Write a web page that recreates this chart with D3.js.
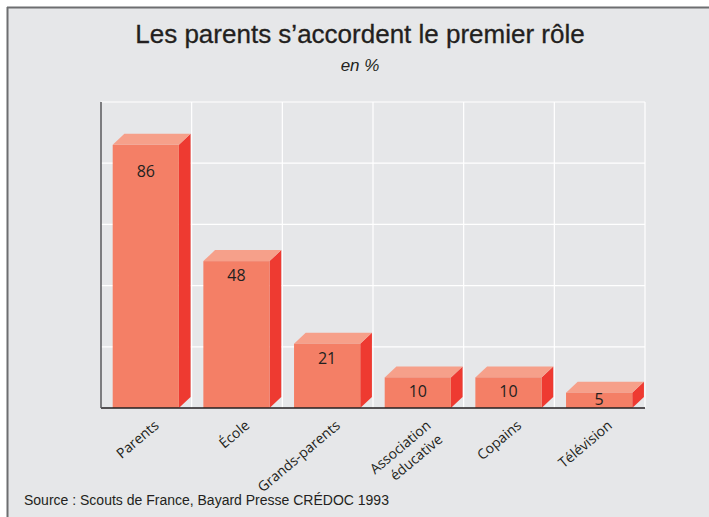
<!DOCTYPE html>
<html>
<head>
<meta charset="utf-8">
<script src="https://d3js.org/d3.v7.min.js"></script>
<style>
  body { margin: 0; background: #fff; }
  svg { display: block; }
</style>
</head>
<body>
<div id="chart"></div>
<script>
// categories & values (en %)
const categories = ["Parents", "École", "Grands-parents", "Association\néducative", "Copains", "Télévision"];
const values = [86, 48, 21, 10, 10, 5];
const yTicks = [0, 20, 40, 60, 80, 100];

const width = 709, height = 517;
const svg = d3.select("#chart").append("svg")
    .attr("width", width)
    .attr("height", height);

// background panel with top/left border
svg.append("rect")
    .attr("x", 7).attr("y", 7)
    .attr("width", width - 7).attr("height", height - 7)
    .attr("fill", "#e6e7e9");
svg.append("line")
    .attr("x1", 7).attr("x2", width).attr("y1", 7.5).attr("y2", 7.5)
    .attr("stroke", "#6d6e70").attr("stroke-width", 2);
svg.append("line")
    .attr("x1", 7.5).attr("x2", 7.5).attr("y1", 7).attr("y2", height)
    .attr("stroke", "#6d6e70").attr("stroke-width", 2);

// title
svg.append("text")
    .attr("x", 360).attr("y", 43)
    .attr("text-anchor", "middle")
    .style("font-family", "'Liberation Sans', Arial, sans-serif")
    .style("font-size", "26px")
    .attr("fill", "#231f20")
    .attr("stroke", "#231f20").attr("stroke-width", 0.3)
    .text("Les parents s\u2019accordent le premier rôle");
svg.append("text")
    .attr("x", 360).attr("y", 71)
    .attr("text-anchor", "middle")
    .style("font-family", "'Liberation Sans', Arial, sans-serif")
    .style("font-size", "17px")
    .style("font-style", "italic")
    .attr("fill", "#231f20")
    .text("en %");

// scales
const x = d3.scaleBand().domain(categories).range([101, 645]).padding(0);
const y = d3.scaleLinear().domain([0, 100]).range([408, 102]);

// grid
const grid = svg.append("g");
grid.selectAll("line.h")
    .data(yTicks.filter(d => d > 0))
    .join("line")
    .attr("x1", 101).attr("x2", 645)
    .attr("y1", d => y(d)).attr("y2", d => y(d))
    .attr("stroke", "#fff").attr("stroke-width", 1.2);
grid.selectAll("line.v")
    .data(categories)
    .join("line")
    .attr("x1", d => x(d) + x.bandwidth()).attr("x2", d => x(d) + x.bandwidth())
    .attr("y1", y(100)).attr("y2", y(0))
    .attr("stroke", "#fff").attr("stroke-width", 1.2);

// bars (3D look)
const depthX = 11.7, depthY = 11;
const offset = 11.7;
const barW = x.bandwidth() * 0.73;
const data = categories.map((c, i) => ({ cat: c, val: values[i] }));

const bars = svg.append("g").selectAll("g")
    .data(data)
    .join("g");

// side face
bars.append("path")
    .attr("fill", "#ee3a31")
    .attr("d", d => {
        const x1 = x(d.cat) + offset + barW, t = y(d.val), b = y(0);
        return `M${x1},${t}L${x1 + depthX},${t - depthY}L${x1 + depthX},${b - depthY}L${x1},${b}Z`;
    });
// top face
bars.append("path")
    .attr("fill", "#f6a08a")
    .attr("d", d => {
        const x0 = x(d.cat) + offset, x1 = x0 + barW, t = y(d.val);
        return `M${x0},${t}L${x0 + depthX},${t - depthY}L${x1 + depthX},${t - depthY}L${x1},${t}Z`;
    });
// front face
bars.append("rect")
    .attr("fill", "#f47f66")
    .attr("x", d => x(d.cat) + offset)
    .attr("y", d => y(d.val))
    .attr("width", barW)
    .attr("height", d => y(0) - y(d.val));

// value labels
bars.append("text")
    .attr("x", d => x(d.cat) + offset + barW / 2)
    .attr("y", d => y(d.val) + (d.val > 60 ? 32 : d.val < 8 ? 12 : 20))
    .attr("text-anchor", "middle")
    .style("font-family", "'Open Sans', sans-serif")
    .style("font-size", "16px")
    .attr("fill", "#231f20")
    .text(d => d.val);

// axes lines
svg.append("line")
    .attr("x1", 101).attr("x2", 645).attr("y1", y(0)).attr("y2", y(0))
    .attr("stroke", "#231f20").attr("stroke-width", 1.5);
svg.append("line")
    .attr("x1", 101).attr("x2", 101).attr("y1", y(100)).attr("y2", y(0))
    .attr("stroke", "#58595b").attr("stroke-width", 1.5);

// category labels, rotated
const labels = svg.append("g").selectAll("text")
    .data(categories)
    .join("text")
    .attr("transform", d => `translate(${x(d) + offset + barW / 2 + 14},${y(0) + 19}) rotate(-40)`)
    .attr("text-anchor", "end")
    .style("font-family", "'Open Sans', sans-serif")
    .style("font-size", "14px")
    .attr("fill", "#231f20");
labels.each(function (d) {
    const lines = d.split("\n");
    const t = d3.select(this);
    lines.forEach((l, i) => {
        t.append("tspan")
            .attr("x", 0)
            .attr("dy", i === 0 ? 0 : "1.3em")
            .text(l);
    });
});

// source
svg.append("text")
    .attr("x", 24).attr("y", 505)
    .style("font-family", "'Liberation Sans', Arial, sans-serif")
    .style("font-size", "14px")
    .attr("fill", "#231f20")
    .text("Source : Scouts de France, Bayard Presse CRÉDOC 1993");
</script>
</body>
</html>
